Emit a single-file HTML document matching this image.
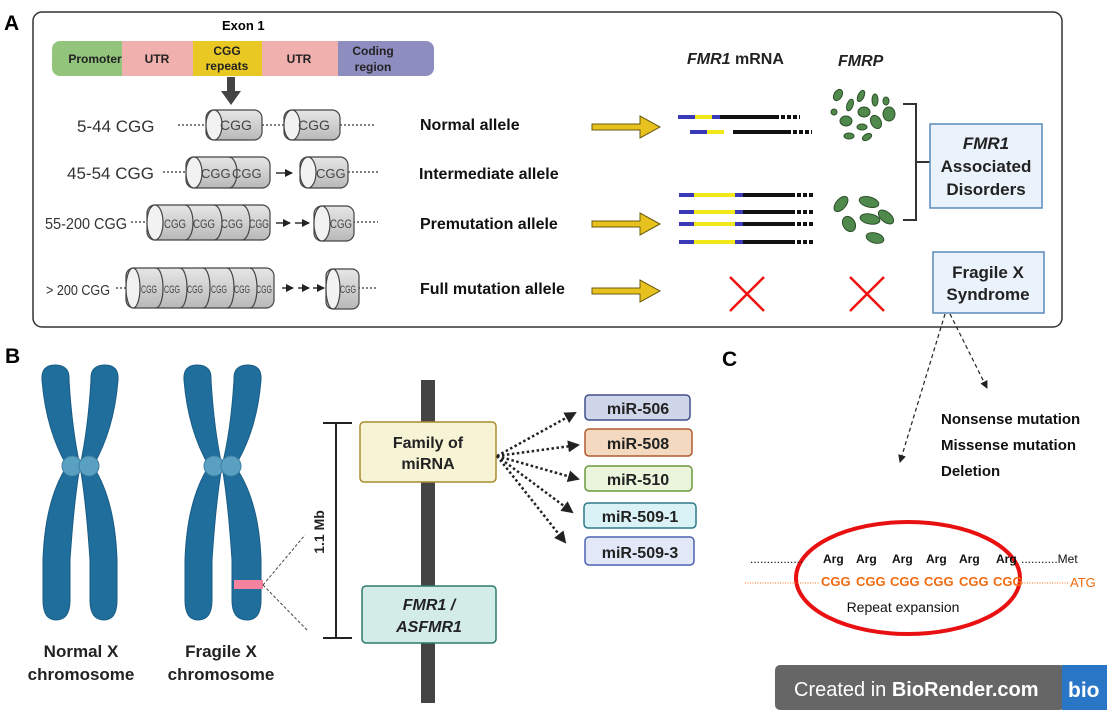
<!DOCTYPE html>
<html><head><meta charset="utf-8"><style>
body{margin:0;background:#fff}
svg{display:block}
text{font-family:"Liberation Sans",Arial,sans-serif}
.b{font-weight:bold}
.cg{font-size:13px;fill:#444}
</style></head><body>
<svg width="1107" height="710" viewBox="0 0 1107 710" xmlns="http://www.w3.org/2000/svg">
<defs>
<linearGradient id="cy" x1="0" y1="0" x2="0" y2="1"><stop offset="0" stop-color="#e6e6e6"/><stop offset="0.5" stop-color="#d0d0d0"/><stop offset="1" stop-color="#b8b8b8"/></linearGradient>
<marker id="ah" markerWidth="8" markerHeight="8" refX="7" refY="4" orient="auto" markerUnits="userSpaceOnUse"><path d="M0,0 L8,4 L0,8z" fill="#222"/></marker>
<marker id="ah2" markerWidth="12" markerHeight="12" refX="10" refY="6" orient="auto" markerUnits="userSpaceOnUse"><path d="M0,0 L12,6 L0,12z" fill="#222"/></marker>
<g id="ya"><path d="M0,-3 H48 V-11 L68,0 L48,11 V3 H0z" fill="#e7c21e" stroke="#6b5a10" stroke-width="1"/></g>
</defs>

<text x="4" y="30" class="b" font-size="21">A</text>
<rect x="33" y="12" width="1029" height="315" rx="9" fill="none" stroke="#333" stroke-width="1.5"/>
<text x="222" y="30" class="b" font-size="13">Exon 1</text>
<rect x="52" y="41" width="80" height="35" rx="8" fill="#92c47c"/>
<rect x="122" y="41" width="71" height="35" fill="#f0b0ae"/>
<rect x="193" y="41" width="70" height="35" fill="#e9c824"/>
<rect x="262" y="41" width="77" height="35" fill="#f0b0ae"/>
<rect x="338" y="41" width="96" height="35" rx="8" fill="#8e8dc0"/>
<rect x="338" y="41" width="20" height="35" fill="#8e8dc0"/>
<g class="b" font-size="12" fill="#222" text-anchor="middle">
<text x="95" y="63">Promoter</text><text x="157" y="63">UTR</text>
<text x="227" y="55">CGG</text><text x="227" y="70">repeats</text>
<text x="299" y="63">UTR</text>
<text x="373" y="55">Coding</text><text x="373" y="71">region</text>
</g>
<path d="M227,77 H235 V91 H241 L231,105 L221,91 H227z" fill="#444"/>

<g font-size="17" fill="#333">
<text x="77" y="132">5-44 CGG</text>
<text x="67" y="179">45-54 CGG</text>
<text x="45" y="229" font-size="16" textLength="82" lengthAdjust="spacingAndGlyphs">55-200 CGG</text>
<text x="46" y="295" font-size="15" textLength="64" lengthAdjust="spacingAndGlyphs">&gt; 200 CGG</text>
</g>
<g stroke="#555" stroke-width="1.5" stroke-dasharray="2,2" fill="none">
<path d="M178,125 H210 M262,125 H288 M340,125 H375"/>
<path d="M163,172 H190 M348,172 H378"/>
<path d="M131,222 H152 M353,222 H378"/>
<path d="M116,288 H132 M358,288 H378"/>
</g>
<g stroke="#444" stroke-width="1.2">
<rect x="206" y="110" width="56" height="30" rx="8" fill="url(#cy)"/><ellipse cx="214" cy="125" rx="8" ry="15" fill="#f2f2f2"/>
<rect x="284" y="110" width="56" height="30" rx="8" fill="url(#cy)"/><ellipse cx="292" cy="125" rx="8" ry="15" fill="#f2f2f2"/>
<rect x="186" y="157" width="84" height="31" rx="8" fill="url(#cy)"/><ellipse cx="194" cy="172.5" rx="8" ry="15.5" fill="#f2f2f2"/>
<path d="M229,157 a8,15.5 0 0 1 0,31" fill="none"/>
<rect x="300" y="157" width="48" height="31" rx="8" fill="url(#cy)"/><ellipse cx="308" cy="172.5" rx="8" ry="15.5" fill="#f2f2f2"/>
<rect x="147" y="205" width="123" height="35" rx="8" fill="url(#cy)"/><ellipse cx="155" cy="222.5" rx="8" ry="17.5" fill="#f2f2f2"/>
<path d="M185,205 a8,17.5 0 0 1 0,35 M214,205 a8,17.5 0 0 1 0,35 M242,205 a8,17.5 0 0 1 0,35" fill="none"/>
<rect x="314" y="206" width="40" height="35" rx="8" fill="url(#cy)"/><ellipse cx="322" cy="223.5" rx="8" ry="17.5" fill="#f2f2f2"/>
<rect x="126" y="268" width="148" height="40" rx="8" fill="url(#cy)"/><ellipse cx="133" cy="288" rx="7" ry="20" fill="#f2f2f2"/>
<path d="M156,268 a7,20 0 0 1 0,40 M180,268 a7,20 0 0 1 0,40 M203,268 a7,20 0 0 1 0,40 M227,268 a7,20 0 0 1 0,40 M250,268 a7,20 0 0 1 0,40" fill="none"/>
<rect x="326" y="269" width="33" height="40" rx="7" fill="url(#cy)"/><ellipse cx="333" cy="289" rx="7" ry="20" fill="#f2f2f2"/>
</g>
<g class="cg" lengthAdjust="spacingAndGlyphs">
<text x="220" y="130" font-size="14">CGG</text><text x="298" y="130" font-size="14">CGG</text>
<text x="201" y="178">CGG</text><text x="232" y="178">CGG</text><text x="316" y="178">CGG</text>
<text x="164" y="228" font-size="12" textLength="22" lengthAdjust="spacingAndGlyphs">CGG</text><text x="193" y="228" font-size="12" textLength="22" lengthAdjust="spacingAndGlyphs">CGG</text><text x="221" y="228" font-size="12" textLength="22" lengthAdjust="spacingAndGlyphs">CGG</text><text x="249" y="228" font-size="12" textLength="20" lengthAdjust="spacingAndGlyphs">CGG</text><text x="330" y="228" font-size="12" textLength="22" lengthAdjust="spacingAndGlyphs">CGG</text>
<text x="141" y="293" font-size="11" textLength="16" lengthAdjust="spacingAndGlyphs">CGG</text><text x="164" y="293" font-size="11" textLength="16" lengthAdjust="spacingAndGlyphs">CGG</text><text x="187" y="293" font-size="11" textLength="16" lengthAdjust="spacingAndGlyphs">CGG</text><text x="211" y="293" font-size="11" textLength="16" lengthAdjust="spacingAndGlyphs">CGG</text><text x="234" y="293" font-size="11" textLength="16" lengthAdjust="spacingAndGlyphs">CGG</text><text x="256" y="293" font-size="11" textLength="16" lengthAdjust="spacingAndGlyphs">CGG</text><text x="340" y="293" font-size="11" textLength="16" lengthAdjust="spacingAndGlyphs">CGG</text>
</g>
<g stroke="#333" stroke-width="1.5" marker-end="url(#ah)">
<line x1="276" y1="173" x2="292" y2="173"/>
<line x1="276" y1="223" x2="290" y2="223"/><line x1="295" y1="223" x2="309" y2="223"/>
<line x1="282" y1="288" x2="293" y2="288"/><line x1="298" y1="288" x2="309" y2="288"/><line x1="313" y1="288" x2="324" y2="288"/>
</g>
<g class="b" font-size="16" fill="#111">
<text x="420" y="130">Normal allele</text>
<text x="419" y="179">Intermediate allele</text>
<text x="420" y="229">Premutation allele</text>
<text x="420" y="294">Full mutation allele</text>
</g>
<use href="#ya" x="592" y="127"/><use href="#ya" x="592" y="224"/><use href="#ya" x="592" y="291"/>

<text x="687" y="64" class="b" font-size="16" fill="#222"><tspan font-style="italic">FMR1</tspan> mRNA</text>
<text x="838" y="66" class="b" font-size="16" font-style="italic" fill="#222">FMRP</text>
<g stroke-width="4">
<line x1="678" y1="117" x2="695" y2="117" stroke="#3a3ab8"/><line x1="695" y1="117" x2="712" y2="117" stroke="#f0e81a"/><line x1="712" y1="117" x2="720" y2="117" stroke="#3a3ab8"/><line x1="720" y1="117" x2="779" y2="117" stroke="#111"/><line x1="781" y1="117" x2="800" y2="117" stroke="#111" stroke-dasharray="4,2"/>
<line x1="690" y1="132" x2="707" y2="132" stroke="#3a3ab8"/><line x1="707" y1="132" x2="724" y2="132" stroke="#f0e81a"/><line x1="733" y1="132" x2="791" y2="132" stroke="#111"/><line x1="793" y1="132" x2="812" y2="132" stroke="#111" stroke-dasharray="4,2"/>
</g>
<g stroke-width="4" id="pm">
<line x1="679" y1="195" x2="694" y2="195" stroke="#3a3ab8"/><line x1="694" y1="195" x2="735" y2="195" stroke="#f0e81a"/><line x1="735" y1="195" x2="743" y2="195" stroke="#3a3ab8"/><line x1="743" y1="195" x2="795" y2="195" stroke="#111"/><line x1="797" y1="195" x2="814" y2="195" stroke="#111" stroke-dasharray="4,2"/>
</g>
<use href="#pm" y="17"/><use href="#pm" y="29"/><use href="#pm" y="47"/>
<g fill="#4f8a4c" stroke="#2d4f2a" stroke-width="1">
<ellipse cx="838" cy="95" rx="4" ry="6" transform="rotate(30 838 95)"/><ellipse cx="850" cy="105" rx="3" ry="6" transform="rotate(20 850 105)"/><ellipse cx="861" cy="96" rx="3" ry="6" transform="rotate(25 861 96)"/><ellipse cx="875" cy="100" rx="3" ry="6"/><ellipse cx="886" cy="101" rx="3" ry="4"/><ellipse cx="834" cy="112" rx="3" ry="3"/><ellipse cx="864" cy="112" rx="6" ry="5"/><ellipse cx="889" cy="114" rx="6" ry="7"/><ellipse cx="846" cy="121" rx="6" ry="5"/><ellipse cx="876" cy="122" rx="5" ry="7" transform="rotate(-30 876 122)"/><ellipse cx="862" cy="127" rx="5" ry="3"/><ellipse cx="849" cy="136" rx="5" ry="3"/><ellipse cx="867" cy="137" rx="5" ry="3" transform="rotate(-30 867 137)"/>
<ellipse cx="841" cy="204" rx="5" ry="9" transform="rotate(40 841 204)"/><ellipse cx="869" cy="202" rx="10" ry="5" transform="rotate(15 869 202)"/><ellipse cx="849" cy="224" rx="6" ry="8" transform="rotate(-30 849 224)"/><ellipse cx="870" cy="219" rx="10" ry="5" transform="rotate(10 870 219)"/><ellipse cx="886" cy="217" rx="9" ry="5" transform="rotate(40 886 217)"/><ellipse cx="875" cy="238" rx="9" ry="5" transform="rotate(15 875 238)"/>
</g>
<path d="M903,104 H916 V220 H903 M916,162 H930" fill="none" stroke="#333" stroke-width="2"/>
<rect x="930" y="124" width="112" height="84" fill="#eaf2fb" stroke="#5a8ab8" stroke-width="1.5"/>
<g class="b" font-size="17" fill="#222" text-anchor="middle">
<text x="986" y="149" font-style="italic">FMR1</text><text x="986" y="172">Associated</text><text x="986" y="195">Disorders</text>
</g>
<rect x="933" y="252" width="111" height="61" fill="#eaf2fb" stroke="#5a8ab8" stroke-width="1.5"/>
<g class="b" font-size="17" fill="#222" text-anchor="middle"><text x="988" y="278">Fragile X</text><text x="988" y="300">Syndrome</text></g>
<g stroke="#f01010" stroke-width="2.5"><path d="M730,277 L764,311 M764,277 L730,311"/><path d="M850,277 L884,311 M884,277 L850,311"/></g>

<text x="5" y="363" class="b" font-size="21">B</text>
<g fill="#1f6e9c" stroke="#1a5c86" stroke-width="1">
<path d="M42,380 Q41,365 55,365 Q70,365 69,380 Q72,430 80,466 Q74,500 70,560 L70,600 Q70,620 56,620 Q43,620 43,600 L43,560 Q45,500 67,466 Q46,430 42,380z"/>
<path d="M118,380 Q119,365 105,365 Q90,365 91,380 Q88,430 80,466 Q86,500 90,560 L90,600 Q90,620 104,620 Q117,620 117,600 L117,560 Q115,500 93,466 Q114,430 118,380z"/>
<path d="M184,380 Q183,365 197,365 Q212,365 211,380 Q214,430 222,466 Q216,500 212,560 L212,600 Q212,620 198,620 Q185,620 185,600 L185,560 Q187,500 209,466 Q188,430 184,380z"/>
<path d="M261,380 Q262,365 248,365 Q233,365 234,380 Q231,430 222,466 Q228,500 232,560 L232,600 Q232,620 247,620 Q261,620 261,600 L261,560 Q259,500 235,466 Q257,430 261,380z"/>
</g>
<g fill="#5aa0c0" stroke="#3c7fa3"><circle cx="72" cy="466" r="10"/><circle cx="89" cy="466" r="10"/><circle cx="214" cy="466" r="10"/><circle cx="231" cy="466" r="10"/></g>
<rect x="234" y="580" width="29" height="9" fill="#f5829e"/>
<g class="b" font-size="17" fill="#222" text-anchor="middle">
<text x="81" y="657">Normal X</text><text x="81" y="680">chromosome</text>
<text x="221" y="657">Fragile X</text><text x="221" y="680">chromosome</text>
</g>
<path d="M263,585 L305,535 M263,585 L307,630" stroke="#444" stroke-width="1" stroke-dasharray="3,2"/>
<rect x="421" y="380" width="14" height="323" fill="#444"/>
<path d="M323,423 H352 M336,423 V638 M323,638 H352" stroke="#222" stroke-width="2" fill="none"/>
<text transform="translate(324,532) rotate(-90)" class="b" font-size="14" text-anchor="middle" fill="#222">1.1 Mb</text>
<rect x="360" y="422" width="136" height="60" rx="4" fill="#f7f4d6" stroke="#a88b2e" stroke-width="1.5"/>
<g class="b" font-size="16" fill="#222" text-anchor="middle"><text x="428" y="448">Family of</text><text x="428" y="469">miRNA</text></g>
<rect x="362" y="586" width="134" height="57" rx="4" fill="#d3ece7" stroke="#2d7a6e" stroke-width="1.5"/>
<g class="b" font-size="16" font-style="italic" fill="#222" text-anchor="middle"><text x="429" y="610">FMR1 /</text><text x="429" y="632">ASFMR1</text></g>
<g stroke="#222" stroke-width="2.5" stroke-dasharray="2.5,2.5" fill="none" marker-end="url(#ah2)">
<line x1="497" y1="456" x2="575" y2="413"/><line x1="497" y1="456" x2="578" y2="445"/><line x1="497" y1="456" x2="578" y2="479"/><line x1="497" y1="456" x2="572" y2="512"/><line x1="497" y1="456" x2="565" y2="542"/>
</g>
<rect x="585" y="395" width="105" height="25" rx="4" fill="#d0d6ea" stroke="#3f5088" stroke-width="1.5"/>
<rect x="585" y="429" width="107" height="27" rx="4" fill="#f3d9bf" stroke="#b05c30" stroke-width="1.5"/>
<rect x="585" y="466" width="107" height="25" rx="4" fill="#eaf5dc" stroke="#6b9a3e" stroke-width="1.5"/>
<rect x="584" y="503" width="112" height="25" rx="4" fill="#daf1f6" stroke="#2e7a8a" stroke-width="1.5"/>
<rect x="585" y="537" width="109" height="28" rx="4" fill="#e3e8f8" stroke="#4d62b0" stroke-width="1.5"/>
<g class="b" font-size="16" fill="#222" text-anchor="middle">
<text x="638" y="414">miR-506</text><text x="638" y="449">miR-508</text><text x="638" y="485">miR-510</text><text x="640" y="522">miR-509-1</text><text x="640" y="558">miR-509-3</text>
</g>

<text x="722" y="366" class="b" font-size="21">C</text>
<g stroke="#222" stroke-width="1.2" stroke-dasharray="4,3" fill="none" marker-end="url(#ah)">
<line x1="945" y1="314" x2="900" y2="462"/><line x1="950" y1="314" x2="987" y2="388"/>
</g>
<g class="b" font-size="15" fill="#111">
<text x="941" y="424">Nonsense mutation</text><text x="941" y="450">Missense mutation</text><text x="941" y="476">Deletion</text>
</g>
<ellipse cx="908" cy="578" rx="112" ry="56" fill="none" stroke="#e81010" stroke-width="4"/>
<g font-size="12" fill="#111" class="b">
<text x="823" y="563">Arg</text><text x="856" y="563">Arg</text><text x="892" y="563">Arg</text><text x="926" y="563">Arg</text><text x="959" y="563">Arg</text><text x="996" y="563">Arg</text>
</g>
<text x="750" y="563" font-size="12" fill="#111">................</text>
<text x="1021" y="563" font-size="12" fill="#111">...........Met</text>
<g font-size="13" fill="#f26b10" class="b">
<text x="821" y="586">CGG</text><text x="856" y="586">CGG</text><text x="890" y="586">CGG</text><text x="924" y="586">CGG</text><text x="959" y="586">CGG</text><text x="993" y="586">CGG</text>
</g>
<path d="M745,583 H820 M1022,583 H1068" stroke="#f26b10" stroke-width="1" stroke-dasharray="1,1.5"/>
<text x="1070" y="587" font-size="13" fill="#f26b10" font-family="Liberation Mono">ATG</text>
<text x="903" y="612" font-size="14" fill="#111" text-anchor="middle">Repeat expansion</text>

<rect x="775" y="665" width="290" height="45" rx="5" fill="#666"/>
<rect x="1062" y="665" width="45" height="45" fill="#2a76c6"/>
<text x="794" y="696" font-size="20" fill="#fff">Created in <tspan class="b">BioRender.com</tspan></text>
<text x="1068" y="697" font-size="21" fill="#fff" class="b">bio</text>
</svg>
</body></html>
